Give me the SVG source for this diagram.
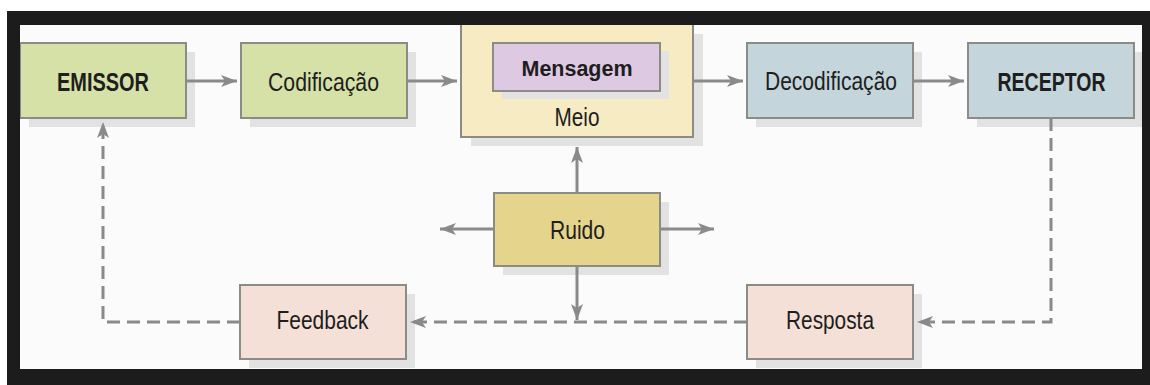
<svg xmlns="http://www.w3.org/2000/svg" width="1150" height="385" viewBox="0 0 1150 385">
  <style>
    .box { stroke: #8c8c86; stroke-width: 2; }
    .shadow { fill: #e2e2e2; }
    .green { fill: #d5e1a6; }
    .meio { fill: #f6ebc2; }
    .msg { fill: #dec9e2; }
    .blue { fill: #c4d5db; }
    .ruido { fill: #e5d48c; }
    .pink { fill: #f4e0d6; }
    .t { font-family: "Liberation Sans Narrow", "Liberation Sans", Arial, sans-serif; font-size: 25px; fill: #1e1e1e; text-anchor: middle; }
    .b { font-weight: bold; }
    .solid { fill: none; stroke: #8a8a8a; stroke-width: 3; }
    .dash { fill: none; stroke: #8a8a8a; stroke-width: 3; stroke-dasharray: 13 7; }
  </style>
  <defs>
    <marker id="arrow" markerUnits="userSpaceOnUse" markerWidth="18" markerHeight="14" refX="16" refY="6" orient="auto">
      <path d="M0,0 L16,6 L0,12 L4,6 z" fill="#8a8a8a"/>
    </marker>
  </defs>
  <rect x="0" y="0" width="1150" height="385" fill="#ffffff"/>
  <rect x="20" y="25" width="1122" height="344" fill="#fbfbfb"/>

  <g id="emissor">
    <rect class="shadow" x="29" y="52" width="166" height="75"/>
    <rect class="box green" x="20" y="43" width="166" height="75"/>
    <text class="t b" x="103" y="90.5" textLength="92" lengthAdjust="spacingAndGlyphs">EMISSOR</text>
  </g>
  <g id="codificacao">
    <rect class="shadow" x="250" y="52" width="166" height="75"/>
    <rect class="box green" x="241" y="43" width="166" height="75"/>
    <text class="t" x="323.5" y="90.5" textLength="111" lengthAdjust="spacingAndGlyphs">Codificação</text>
  </g>
  <g id="meio">
    <rect class="shadow" x="471" y="34" width="232" height="112"/>
    <rect class="box meio" x="461" y="20" width="232" height="117"/>
    <text class="t" x="577" y="126" textLength="45" lengthAdjust="spacingAndGlyphs">Meio</text>
  </g>
  <g id="mensagem">
    <rect class="shadow" x="502" y="51" width="167" height="48"/>
    <rect class="box msg" x="493" y="43" width="167" height="48"/>
    <text class="t b" x="577" y="76" font-size="22" style="font-size:22px" textLength="111" lengthAdjust="spacingAndGlyphs">Mensagem</text>
  </g>
  <g id="decodificacao">
    <rect class="shadow" x="756" y="52" width="166" height="75"/>
    <rect class="box blue" x="747" y="43" width="166" height="75"/>
    <text class="t" x="831" y="89.5" textLength="132" lengthAdjust="spacingAndGlyphs">Decodificação</text>
  </g>
  <g id="receptor">
    <rect class="shadow" x="977" y="52" width="166" height="75"/>
    <rect class="box blue" x="968" y="43" width="166" height="75"/>
    <text class="t b" x="1051.5" y="91" textLength="108" lengthAdjust="spacingAndGlyphs">RECEPTOR</text>
  </g>
  <g id="ruido">
    <rect class="shadow" x="503" y="202" width="166" height="73"/>
    <rect class="box ruido" x="494" y="193" width="166" height="73"/>
    <text class="t" x="577.5" y="239" textLength="55" lengthAdjust="spacingAndGlyphs">Ruido</text>
  </g>
  <g id="feedback">
    <rect class="shadow" x="249" y="294" width="166" height="74"/>
    <rect class="box pink" x="240" y="285" width="166" height="74"/>
    <text class="t" x="322.5" y="329" textLength="92" lengthAdjust="spacingAndGlyphs">Feedback</text>
  </g>
  <g id="resposta">
    <rect class="shadow" x="756" y="294" width="166" height="74"/>
    <rect class="box pink" x="747" y="285" width="166" height="74"/>
    <text class="t" x="830" y="329" textLength="88" lengthAdjust="spacingAndGlyphs">Resposta</text>
  </g>

  <g id="connectors">
    <path class="solid" d="M186,81 H237" marker-end="url(#arrow)"/>
    <path class="solid" d="M407,81 H457" marker-end="url(#arrow)"/>
    <path class="solid" d="M693,81 H743" marker-end="url(#arrow)"/>
    <path class="solid" d="M913,81 H964" marker-end="url(#arrow)"/>
    <path class="solid" d="M577,193 V147" marker-end="url(#arrow)"/>
    <path class="solid" d="M494,229 H440" marker-end="url(#arrow)"/>
    <path class="solid" d="M660,229 H714" marker-end="url(#arrow)"/>
    <path class="solid" d="M577,266 V320" marker-end="url(#arrow)"/>
    <path class="dash" d="M1051,118 V322 H917" marker-end="url(#arrow)"/>
    <path class="dash" d="M747,322 H410" marker-end="url(#arrow)"/>
    <path class="dash" d="M240,322 H103 V122" marker-end="url(#arrow)"/>
  </g>

  <path d="M7,11 H1150 V385 H7 Z M20,25 V369 H1142 V25 Z" fill="#1c1c1c" fill-rule="evenodd"/>
</svg>
